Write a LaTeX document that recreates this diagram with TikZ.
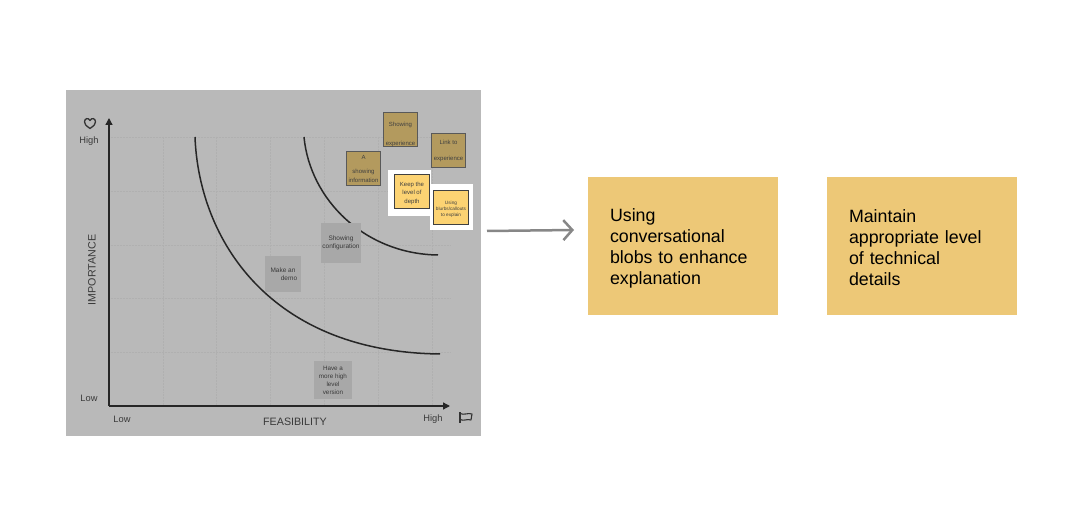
\documentclass[tikz,border=0pt]{standalone}
\usepackage{fontspec}
\setmainfont{Liberation Sans}
\usetikzlibrary{arrows.meta}
\definecolor{panelgray}{HTML}{B9B9B9}
\definecolor{gridgray}{HTML}{B0B0B0}
\definecolor{notegray}{HTML}{A8A8A8}
\definecolor{notedim}{HTML}{B39A5E}
\definecolor{notebright}{HTML}{FCD373}
\definecolor{boxyellow}{HTML}{EDC877}
\definecolor{inkgray}{HTML}{3A3A3A}
\tikzstyle{dimnote}=[draw=black!65, line width=1pt, fill=notedim, minimum size=34pt, inner sep=0pt, align=center, font=\fontsize{6}{9}\selectfont, text=black!75]
\tikzstyle{brightnote}=[draw=black!75, line width=1pt, fill=notebright, minimum size=34.5pt, inner sep=0pt, align=center, font=\fontsize{6}{8.5}\selectfont, text=black!75]
\tikzstyle{graynote}=[fill=notegray, inner sep=0pt, align=center, font=\fontsize{6.5}{8.5}\selectfont, text=inkgray]
\tikzstyle{halo}=[fill=white, inner sep=0pt]
\tikzstyle{takeaway}=[fill=boxyellow, minimum width=190pt, minimum height=138pt, inner sep=0pt, text width=146pt, align=left, font=\fontsize{17.8}{21}\selectfont, text=black]
\tikzstyle{axislabel}=[font=\fontsize{9.3}{11}\selectfont, text=inkgray]
\tikzstyle{curve}=[line width=1.5pt, black!85]

\begin{document}
\begin{tikzpicture}[x=1pt,y=-1pt]
\useasboundingbox (0,0) rectangle (1082,526);
\fill[panelgray] (66,90) rectangle (481,436);

% grid
\foreach \gx in {163,216,270,324,378,432}
    \draw[gridgray, densely dotted, line width=.5pt] (\gx,137) -- (\gx,406);
\foreach \gy in {137,191,245,298,352}
    \draw[gridgray, densely dotted, line width=.5pt] (109,\gy) -- (450,\gy);

% axes
\coordinate (origin) at (109,406);
\coordinate (ytop) at (109,118);
\coordinate (xend) at (450,406);
\draw[-{Triangle[length=7pt,width=7pt]}, line width=1.3pt, black!85] (origin) -- (ytop);
\draw[-{Triangle[length=7pt,width=7pt]}, line width=1.3pt, black!85] (origin) -- (xend);

% curves
\draw[curve] (195,137) .. controls (199,240) and (270,352) .. (440,354);
\draw[curve] (304,137) .. controls (310,200) and (365,254) .. (438,255);

% axis labels
\node[axislabel] (yhigh) at (89,141) {High};
\node[axislabel] (ylow) at (89,398) {Low};
\node[axislabel] (xlow) at (122,419) {Low};
\node[axislabel] (xhigh) at (433,419) {High};
\node[axislabel, font=\fontsize{10.7}{12}\selectfont] (xname) at (295,422) {FEASIBILITY};
\node[axislabel, font=\fontsize{10.7}{12}\selectfont, rotate=90] (yname) at (92,270) {IMPORTANCE};

% heart, flag
\draw[line width=1.3pt, black!80, line join=round] (90,128.5) .. controls (86,125.5) and (84.5,124.5) .. (84.5,122)
    .. controls (84.5,118) and (88.5,117.5) .. (90,120.5) .. controls (91.5,117.5) and (95.5,118) .. (95.5,122)
    .. controls (95.5,124.5) and (94,125.5) .. (90,128.5) -- cycle;
\draw[line width=1.1pt, black!80, line join=round] (460,423) -- (460,412);
\draw[line width=1.1pt, black!80, line join=round] (460,413.5) .. controls (464,415.5) and (468,412.5) .. (472,414)
    -- (471,420) .. controls (467,418.5) and (464,421.5) .. (460,419.5);

% notes
\node[dimnote] (showing) at (400.5,129.5) {\rule{0pt}{14pt}Showing\\[10pt]experience};
\node[dimnote] (link) at (448.5,150.5) {Link to\\[7pt]experience};
\node[dimnote] (info) at (363.5,168.5) {A\\[5pt]showing\\information};
\node[halo, minimum width=43pt, minimum height=46pt] (keephalo) at (409.5,193) {};
\node[halo, minimum width=43pt, minimum height=46pt] (usinghalo) at (451.5,207) {};
\node[brightnote] (keep) at (412,191.5) {\rule{0pt}{8pt}Keep the\\level of\\depth};
\node[brightnote, font=\fontsize{4.7}{6}\selectfont] (blurbs) at (451,207.5) {\rule{0pt}{6pt}Using\\blurbs/callouts\\to explain};
\node[graynote, minimum size=40pt] (config) at (341,243) {Showing\\configuration};
\node[graynote, minimum size=36pt] (demo) at (283,274) {Make an\\\hspace*{12pt}demo};
\node[graynote, minimum size=38pt, font=\fontsize{6.3}{8}\selectfont] (version) at (333,380) {Have a\\more high\\level\\version};

% takeaways
\node[takeaway] (blobs) at (683,246) {\rule{0pt}{17pt}Using\\conversational\\blobs to enhance\\explanation};
\node[takeaway] (details) at (922,246) {\rule{0pt}{17pt}Maintain\\appropriate level\\of technical\\details};

% arrow
\coordinate (arrowstart) at (487,231);
\coordinate (arrowend) at (574,230);
\draw[-{Straight Barb[length=9pt,width=20pt,line width=2.5pt]}, line width=2.5pt, black!47] (arrowstart) -- (arrowend);
\end{tikzpicture}
\end{document}
